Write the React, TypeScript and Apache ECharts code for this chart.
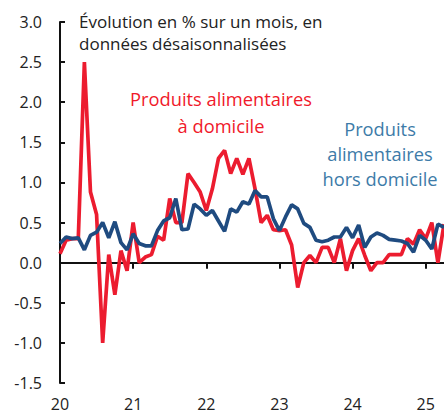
import React, { useEffect, useRef } from "react";
import * as echarts from "echarts";

const months: string[] = [];
for (let y = 2020; y <= 2025; y++) {
  for (let m = 1; m <= 12; m++) {
    if (months.length < 64) months.push(`${y}-${String(m).padStart(2, "0")}`);
  }
}

const foodAtHome = [
  0.11, 0.28, 0.3, 0.3, 2.5, 0.88, 0.6, -1.0, 0.1, -0.4, 0.15, -0.1,
  0.5, 0.0, 0.07, 0.1, 0.33, 0.28, 0.8, 0.5, 0.5, 1.11, 1.0, 0.88,
  0.65, 0.92, 1.3, 1.4, 1.11, 1.3, 1.1, 1.3, 0.92, 0.5, 0.59, 0.41,
  0.4, 0.41, 0.22, -0.31, 0.0, 0.09, 0.0, 0.19, 0.19, 0.0, 0.3, -0.1,
  0.15, 0.3, 0.09, -0.1, 0.0, 0.0, 0.1, 0.1, 0.1, 0.3, 0.23, 0.41,
  0.3, 0.5, 0.0, 0.48,
];

const foodAway = [
  0.24, 0.32, 0.3, 0.31, 0.16, 0.34, 0.38, 0.5, 0.31, 0.51, 0.25, 0.16,
  0.36, 0.24, 0.21, 0.21, 0.4, 0.52, 0.56, 0.8, 0.41, 0.42, 0.73, 0.67,
  0.59, 0.65, 0.52, 0.39, 0.67, 0.63, 0.76, 0.73, 0.9, 0.82, 0.82, 0.55,
  0.4, 0.57, 0.72, 0.67, 0.49, 0.44, 0.28, 0.26, 0.28, 0.32, 0.32, 0.44,
  0.31, 0.47, 0.19, 0.32, 0.37, 0.34, 0.29, 0.28, 0.27, 0.24, 0.13, 0.34,
  0.28, 0.17, 0.48, 0.44,
];

const yTicks = { min: -1.5, max: 3.0, interval: 0.5 };

const FONT = "'Open Sans', 'Noto Sans', sans-serif";
const RED = "#ec1c2f";
const NAVY = "#1f4b80";
const RED_TEXT = "#f0192a";
const BLUE_TEXT = "#3d7ba8";

export default function App() {
  const ref = useRef<HTMLDivElement>(null);
  useEffect(() => {
    document.body.style.margin = "0";
    const chart = echarts.init(ref.current!, null, { renderer: "svg" });
    const yearTick = (i: number) => i % 12 === 0;
    chart.setOption({
      animation: false,
      grid: { left: 60, right: 0, top: 22, bottom: 31 },
      xAxis: [
        {
          type: "category",
          data: months,
          boundaryGap: false,
          position: "bottom",
          axisLine: { show: true, onZero: true, lineStyle: { color: "#111", width: 2 } },
          axisTick: { show: true, interval: yearTick, length: 6, lineStyle: { color: "#111", width: 2 } },
          axisLabel: { show: false },
          splitLine: { show: false },
        },
        {
          type: "category",
          data: months,
          boundaryGap: false,
          position: "bottom",
          axisLine: { show: false, onZero: false },
          axisTick: { show: false },
          axisLabel: {
            show: true,
            interval: yearTick,
            formatter: (v: string) => v.slice(2, 4),
            fontFamily: FONT,
            fontSize: 16,
            color: "#222",
            margin: 13,
          },
          splitLine: { show: false },
        },
      ],
      yAxis: {
        type: "value",
        min: yTicks.min,
        max: yTicks.max,
        interval: yTicks.interval,
        axisLine: { show: true, lineStyle: { color: "#111", width: 2 } },
        axisTick: { show: true, inside: true, length: 5, lineStyle: { color: "#111", width: 2 } },
        axisLabel: {
          formatter: (v: number) => v.toFixed(1),
          fontFamily: FONT,
          fontSize: 16,
          color: "#222",
          margin: 18,
        },
        splitLine: { show: false },
      },
      series: [
        {
          type: "line",
          data: foodAtHome,
          xAxisIndex: 0,
          symbol: "none",
          lineStyle: { color: RED, width: 3.7 },
          z: 2,
        },
        {
          type: "line",
          data: foodAway,
          xAxisIndex: 0,
          symbol: "none",
          lineStyle: { color: NAVY, width: 3.7 },
          z: 3,
        },
      ],
      graphic: [
        {
          type: "text",
          left: 79,
          top: 10,
          style: {
            text: "Évolution en % sur un mois, en\ndonnées désaisonnalisées",
            font: `17px ${FONT}`,
            fill: "#222",
            lineHeight: 22,
          },
        },
        {
          type: "text",
          x: 221,
          y: 112,
          style: {
            text: "Produits alimentaires\nà domicile",
            font: `18.3px ${FONT}`,
            fill: RED_TEXT,
            lineHeight: 27,
            align: "center",
            verticalAlign: "middle",
          },
        },
        {
          type: "text",
          x: 380,
          y: 153,
          style: {
            text: "Produits\nalimentaires\nhors domicile",
            font: `18.3px ${FONT}`,
            fill: BLUE_TEXT,
            lineHeight: 25,
            align: "center",
            verticalAlign: "middle",
          },
        },
      ],
    });
    return () => chart.dispose();
  }, []);
  return <div ref={ref} style={{ width: 444, height: 414 }} />;
}
